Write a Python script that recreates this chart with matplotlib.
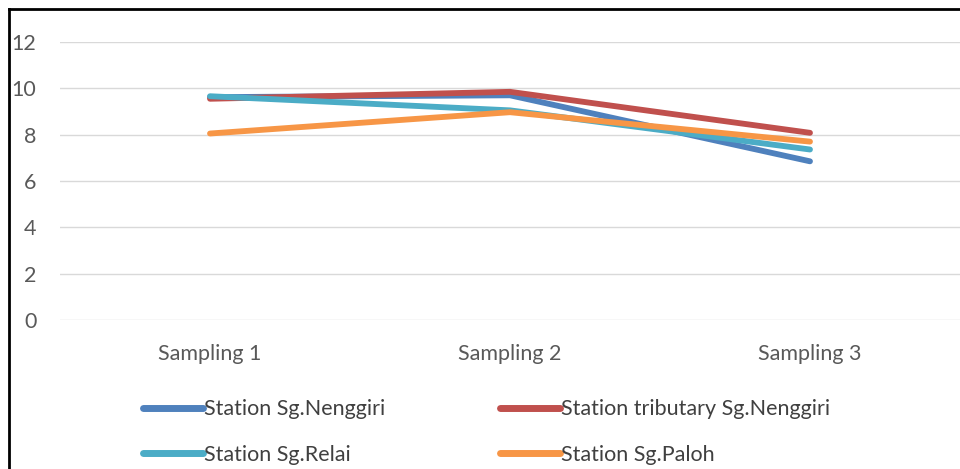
import matplotlib.pyplot as plt
from matplotlib.lines import Line2D

plt.rcParams['font.family'] = ['Lato', 'DejaVu Sans']

categories = ['Sampling 1', 'Sampling 2', 'Sampling 3']
nenggiri = [9.62, 9.70, 6.85]
tributary = [9.55, 9.85, 8.08]
relai = [9.66, 9.05, 7.36]
paloh = [8.05, 8.97, 7.70]

series = [
    ('Station Sg.Nenggiri', nenggiri, '#4F81BD'),
    ('Station tributary Sg.Nenggiri', tributary, '#C0504D'),
    ('Station Sg.Relai', relai, '#4BACC6'),
    ('Station Sg.Paloh', paloh, '#F79646'),
]

fig = plt.figure(figsize=(9.6, 4.69), dpi=100)
ax = fig.add_axes([0.0625, 0.3177, 0.9375, 0.5927])

x = range(len(categories))
lines = []
for name, vals, col in series:
    ln, = ax.plot(x, vals, color=col, lw=4.2, label=name, solid_capstyle='round')
    lines.append(ln)

ax.set_xlim(-0.5, 2.5)
ax.set_ylim(0, 12)
ax.set_yticks(range(0, 13, 2))
ax.set_xticks(list(x))
ax.set_xticklabels(categories)
ax.grid(axis='y', color='#d9d9d9', lw=1)
ax.set_axisbelow(True)
for s in ax.spines.values():
    s.set_visible(False)
ax.tick_params(axis='both', length=0, labelsize=15.5, colors='#595959')
ax.tick_params(axis='y', pad=17)
ax.tick_params(axis='x', pad=17)

# legend fills row by row: Nenggiri, tributary / Relai, Paloh
order = [0, 2, 1, 3]
leg = fig.legend([lines[i] for i in order], [series[i][0] for i in order],
                 loc='upper left', bbox_to_anchor=(0.149, 0.149), ncol=2,
                 frameon=False, fontsize=15.5, handlelength=2.8, handletextpad=0.05,
                 columnspacing=5.3, labelspacing=1.18, borderpad=0, borderaxespad=0)
for t in leg.get_texts():
    t.set_color('#404040')
for h in leg.legend_handles:
    h.set_linewidth(5)

# black frame on the left and top edges
fig.add_artist(Line2D([0.0094, 0.0094], [0, 1 - 9 / 469], color='black', lw=2))
fig.add_artist(Line2D([0.0094, 1], [1 - 9 / 469, 1 - 9 / 469], color='black', lw=2))

fig.savefig('out.png', dpi=100)
